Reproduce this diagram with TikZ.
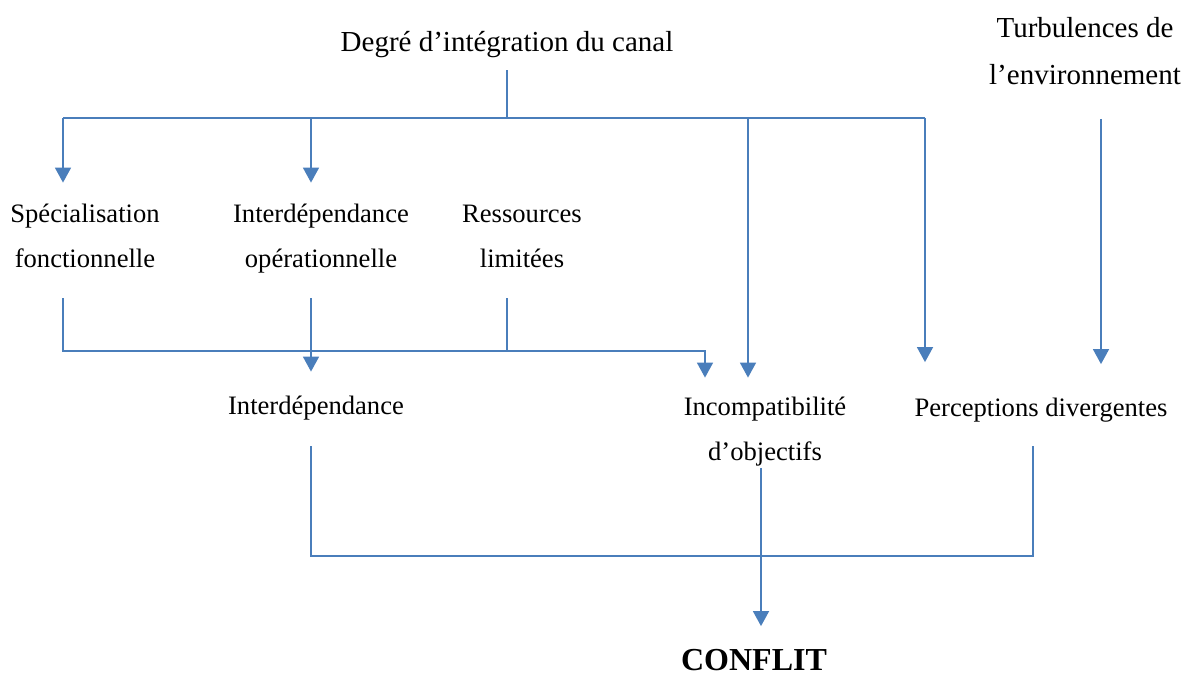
\documentclass[tikz,border=0pt]{standalone}
\usepackage{fontspec}
\setmainfont{Liberation Serif}
\usetikzlibrary{arrows.meta}
\definecolor{linkblue}{RGB}{74,126,187}
\begin{document}
\begin{tikzpicture}[x=0.5pt,y=-0.5pt,
  lbl/.style={inner sep=0, align=center, font=\fontsize{13.3}{22.5}\selectfont},
  biglbl/.style={lbl, font=\fontsize{14.5}{23.5}\selectfont},
  link/.style={draw=linkblue, line width=0.8pt},
  arr/.style={link, -{Triangle[width=8pt,length=7.5pt]}}]
\useasboundingbox (0,0) rectangle (1182,678);
\node[biglbl] (deg) at (507,42){\strut Degré d’intégration du canal};
\node[biglbl] (turb) at (1085,52){\strut Turbulences de\\\strut l’environnement};
\node[lbl] (spec) at (85,236){\strut Spécialisation\\\strut fonctionnelle};
\node[lbl] (interop) at (321,236){\strut Interdépendance\\\strut opérationnelle};
\node[lbl] (ress) at (522,236){\strut Ressources\\\strut limitées};
\node[lbl] (interd) at (316,405){\strut Interdépendance};
\node[lbl] (incomp) at (765,429){\strut Incompatibilité\\\strut d’objectifs};
\node[lbl] (perc) at (1041,407){\strut Perceptions divergentes};
\node[lbl, font=\fontsize{16}{19}\selectfont\bfseries] (conf) at (754,663){\strut CONFLIT};
\coordinate (j0) at (507,118);
\coordinate (b1) at (63,118);
\coordinate (b2) at (311,118);
\coordinate (b3) at (748,118);
\coordinate (b4) at (925,118);
\coordinate (tb) at (1101,118);
\coordinate (m1) at (63,351);
\coordinate (m2) at (507,351);
\coordinate (m3) at (705,351);
\coordinate (k1) at (311,556);
\coordinate (k2) at (1033,556);
\coordinate (k3) at (761,556);
\draw[link, shorten <=2.25pt](deg.south) -- (j0);
\draw[link](b1) -- (b4);
\draw[arr, shorten >=4pt](b1) -- (b1 |- spec.north);
\draw[arr, shorten >=4pt](b2) -- (b2 |- interop.north);
\draw[arr, shorten >=3pt](b3) -- (b3 |- incomp.north);
\draw[arr, shorten >=11pt](b4) -- (b4 |- perc.north);
\draw[arr, shorten <=9.75pt, shorten >=10pt](turb.south -| tb) -- (tb |- perc.north);
\draw[arr, shorten <=8.5pt, shorten >=3pt](spec.south -| m1) -- (m1) -- (m3) -- (m3 |- incomp.north);
\draw[link, shorten <=8.5pt](ress.south -| m2) -- (m2);
\draw[arr, shorten <=8.5pt, shorten >=5.25pt](interop.south -| b2) -- (interd.north -| b2);
\draw[link, shorten <=9.25pt, shorten >=8.25pt](interd.south -| k1) -- (k1) -- (k2) -- (k2 |- perc.south);
\draw[arr, shorten <=-3pt, shorten >=8.75pt](incomp.south -| k3) -- (k3 |- conf.north);
\end{tikzpicture}
\end{document}
